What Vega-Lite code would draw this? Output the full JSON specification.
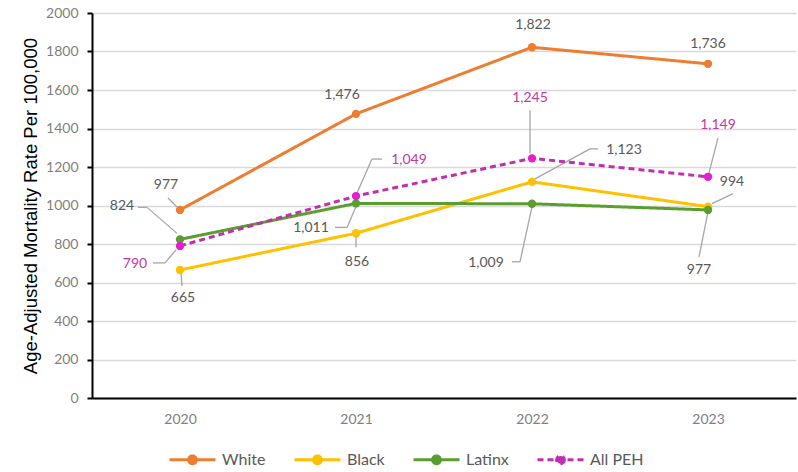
{
  "$schema": "https://vega.github.io/schema/vega-lite/v6.json",
  "width": 704,
  "height": 385,
  "autosize": {"type": "none"},
  "padding": {"left": 92, "top": 13, "right": 2, "bottom": 74},
  "background": "white",
  "config": {
    "view": {"stroke": null},
    "legend": {
      "orient": "none",
      "legendX": 76,
      "legendY": 422,
      "direction": "horizontal",
      "padding": 0,
      "symbolType": "M-1,0L1,0M0.17,0A0.17,0.17,0,1,1,-0.17,0A0.17,0.17,0,1,1,0.17,0Z",
      "symbolSize": 2116,
      "symbolStrokeWidth": 3,
      "labelFont": "Lato",
      "labelFontSize": 16,
      "labelColor": "#595959",
      "labelOffset": 5,
      "columnPadding": 22
    }
  },
  "data": {
    "values": [
      {"series": "White", "year": 2020, "value": 977},
      {"series": "White", "year": 2021, "value": 1476},
      {"series": "White", "year": 2022, "value": 1822},
      {"series": "White", "year": 2023, "value": 1736},
      {"series": "Black", "year": 2020, "value": 665},
      {"series": "Black", "year": 2021, "value": 856},
      {"series": "Black", "year": 2022, "value": 1123},
      {"series": "Black", "year": 2023, "value": 994},
      {"series": "Latinx", "year": 2020, "value": 824},
      {"series": "Latinx", "year": 2021, "value": 1011},
      {"series": "Latinx", "year": 2022, "value": 1009},
      {"series": "Latinx", "year": 2023, "value": 977},
      {"series": "All PEH", "year": 2020, "value": 790},
      {"series": "All PEH", "year": 2021, "value": 1049},
      {"series": "All PEH", "year": 2022, "value": 1245},
      {"series": "All PEH", "year": 2023, "value": 1149}
    ]
  },
  "encoding": {
    "x": {
      "field": "year",
      "type": "quantitative",
      "scale": {"domain": [2019.5, 2023.5], "nice": false, "zero": false},
      "axis": {
        "values": [2020, 2021, 2022, 2023],
        "format": "d",
        "title": null,
        "grid": false,
        "ticks": false,
        "labelPadding": 14,
        "labelFont": "Lato",
        "labelFontSize": 14,
        "labelColor": "#7F7F7F",
        "domainColor": "#000000",
        "domainWidth": 2
      }
    },
    "y": {
      "field": "value",
      "type": "quantitative",
      "scale": {"domain": [0, 2000], "nice": false},
      "axis": {
        "values": [0, 200, 400, 600, 800, 1000, 1200, 1400, 1600, 1800, 2000],
        "format": "d",
        "title": "Age-Adjusted Mortality Rate Per 100,000",
        "titleFont": "Liberation Sans",
        "titleFontSize": 18.5,
        "titleFontWeight": "normal",
        "titleColor": "#000000",
        "titlePadding": 5,
        "grid": true,
        "gridColor": "#D9D9D9",
        "gridWidth": 1.5,
        "domainColor": "#000000",
        "domainWidth": 2,
        "tickColor": "#000000",
        "tickWidth": 2,
        "tickSize": 5,
        "labelPadding": 9,
        "labelFont": "Lato",
        "labelFontSize": 14,
        "labelColor": "#7F7F7F"
      }
    }
  },
  "layer": [
    {
      "mark": {
        "type": "rule",
        "color": "#A6A6A6",
        "strokeWidth": 1.3,
        "xOffset": {"expr": "[-12,0,0,0,1,0,3,4,-42,-21,-20,0,-27,1,-2,10][indexof(['White','Black','Latinx','All PEH'],datum.series)*4+datum.year-2020]"},
        "yOffset": {"expr": "[-12,0,0,0,3,2,-3,-3,-32,24,58,2,17,-3,-48,-39][indexof(['White','Black','Latinx','All PEH'],datum.series)*4+datum.year-2020]"},
        "x2Offset": {"expr": "[-3,0,0,0,2,0,58,25,-33,-9,-12,-9,-15,16,-2,1][indexof(['White','Black','Latinx','All PEH'],datum.series)*4+datum.year-2020]"},
        "y2Offset": {"expr": "[-3,0,0,0,16,14,-33,-13,-32,24,58,47,17,-37,-5,-4][indexof(['White','Black','Latinx','All PEH'],datum.series)*4+datum.year-2020]"}
      },
      "encoding": {
        "x2": {"field": "year"},
        "y2": {"field": "value"}
      }
    },
    {
      "mark": {
        "type": "rule",
        "color": "#A6A6A6",
        "strokeWidth": 1.3,
        "xOffset": {"expr": "[0,0,0,0,0,0,58,0,-33,-9,-12,0,-15,16,0,0][indexof(['White','Black','Latinx','All PEH'],datum.series)*4+datum.year-2020]"},
        "yOffset": {"expr": "[0,0,0,0,0,0,-33,0,-32,24,58,0,17,-37,0,0][indexof(['White','Black','Latinx','All PEH'],datum.series)*4+datum.year-2020]"},
        "x2Offset": {"expr": "[0,0,0,0,0,0,66,0,-3,0,0,0,-4,26,0,0][indexof(['White','Black','Latinx','All PEH'],datum.series)*4+datum.year-2020]"},
        "y2Offset": {"expr": "[0,0,0,0,0,0,-33,0,-6,3,3,0,4,-37,0,0][indexof(['White','Black','Latinx','All PEH'],datum.series)*4+datum.year-2020]"}
      },
      "encoding": {
        "x2": {"field": "year"},
        "y2": {"field": "value"}
      }
    },
    {
      "mark": {"type": "line", "strokeWidth": 3},
      "encoding": {
        "color": {
          "field": "series",
          "type": "nominal",
          "scale": {
            "domain": ["White", "Black", "Latinx", "All PEH"],
            "range": ["#ED7D31", "#FFC000", "#5A9E2F", "#C02FAE"]
          },
          "legend": {
            "title": null,
            "encode": {"symbols": {"update": {"fill": {"scale": "color", "field": "value"}, "fillOpacity": {"value": 1}}}}
          }
        },
        "strokeDash": {
          "field": "series",
          "type": "nominal",
          "scale": {
            "domain": ["White", "Black", "Latinx", "All PEH"],
            "range": [[1, 0], [1, 0], [1, 0], [6, 4]]
          },
          "legend": {
            "title": null,
            "encode": {"symbols": {"update": {"fill": {"scale": "color", "field": "value"}, "fillOpacity": {"value": 1}}}}
          }
        }
      }
    },
    {
      "mark": {
        "type": "point",
        "filled": true,
        "size": 70,
        "opacity": 1,
        "fill": {"expr": "datum.series==='White'?'#ED7D31':datum.series==='Black'?'#FFC000':datum.series==='Latinx'?'#5A9E2F':'#E61ED2'"}
      }
    },
    {
      "mark": {
        "type": "text",
        "font": "Lato",
        "fontSize": 14,
        "align": "center",
        "baseline": "middle",
        "fill": {"expr": "datum.series==='All PEH'?'#C2389F':'#595959'"},
        "dx": {"expr": "[-14,-14,1,0,3,1,92,24,-58,-45,-46,-9,-45,53,-2,10][indexof(['White','Black','Latinx','All PEH'],datum.series)*4+datum.year-2020]"},
        "dy": {"expr": "[-25,-19,-22,-20,28,29,-32,-25,-33,25,59,60,18,-36,-60,-52][indexof(['White','Black','Latinx','All PEH'],datum.series)*4+datum.year-2020]"}
      },
      "encoding": {
        "text": {"field": "value", "type": "quantitative", "format": ","}
      }
    }
  ]
}
